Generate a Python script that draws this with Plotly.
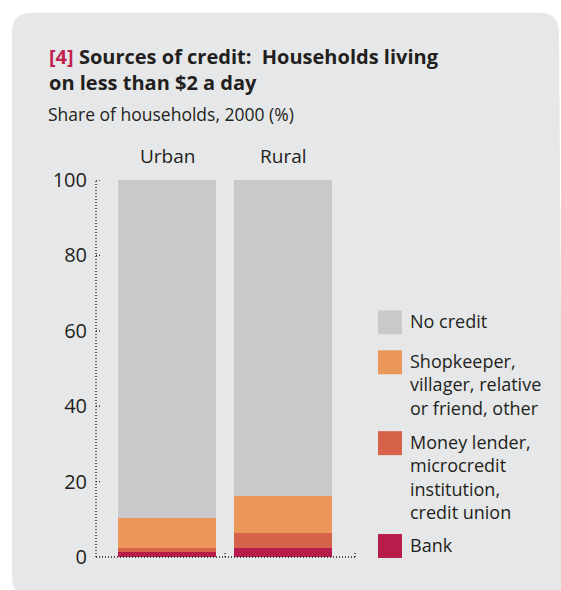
import plotly.graph_objects as go

# data (share of households, 2000, %)
areas = ["Urban", "Rural"]
series = ["Bank", "Money lender,<br>microcredit<br>institution,<br>credit union",
          "Shopkeeper,<br>villager, relative<br>or friend, other", "No credit"]
bank = [1.4, 2.3]
money_lender = [0.9, 4.1]
shopkeeper = [8.0, 9.9]
no_credit = [89.7, 83.7]
y_ticks = [0, 20, 40, 60, 80, 100]

colors = ["#b81c4a", "#d6624a", "#ec975a", "#c8c9cb"]
values = [bank, money_lender, shopkeeper, no_credit]
INK = "#231f20"
FONT = "Open Sans"

W, H = 561, 590
# plot area in pixels
L, R, T, B = 96, 355, 179.5, 557


def px(x):
    return (x - L) / (R - L)


def py(y):
    return (B - y) / (B - T)


fig = go.Figure()
for name, vals, col in zip(series, values, colors):
    fig.add_trace(go.Bar(x=areas, y=vals, name=name, marker_color=col,
                         marker_line_width=0, showlegend=False))

shapes = []
# grey rounded panel (runs off the bottom/right of the picture)
x0, y0, r = 12, 12, 20
x1_top, x1_bot, y1 = 559, 563, 597
path = (f"M {px(x0+r)},{py(y0)} L {px(x1_top-r)},{py(y0)} Q {px(x1_top)},{py(y0)} {px(x1_top)},{py(y0+r)} "
        f"L {px(x1_bot)},{py(y1)} "
        f"L {px(x0+r)},{py(y1)} Q {px(x0)},{py(y1)} {px(x0)},{py(y1-r)} "
        f"L {px(x0)},{py(y0+r)} Q {px(x0)},{py(y0)} {px(x0+r)},{py(y0)} Z")
shapes.append(dict(type="path", path=path, xref="paper", yref="paper",
                   fillcolor="#e6e7e8", line_width=0, layer="below"))

dot = dict(color=INK, width=1.3, dash="1px,2px")
# dotted axes
shapes.append(dict(type="line", xref="x domain", yref="y domain", x0=0, x1=0, y0=0, y1=1, line=dot))
shapes.append(dict(type="line", xref="x domain", yref="y domain", x0=0, x1=1, y0=0, y1=0, line=dot))
for v in y_ticks:
    shapes.append(dict(type="line", xref="x domain", yref="y", x0=0, x1=6 / (R - L), y0=v, y1=v, line=dot))
tick_h = 6 / (B - T)
shapes.append(dict(type="line", xref="x", yref="y domain", x0=0.5, x1=0.5, y0=0, y1=tick_h, line=dot))
shapes.append(dict(type="line", xref="x domain", yref="y domain", x0=1, x1=1, y0=0, y1=tick_h, line=dot))

annotations = [
    dict(text="<b><span style='color:#c0224f'>[4]</span> Sources of credit:  Households living"
              "<br>on less than $2 a day</b>",
         x=px(47), y=py(40), xref="paper", yref="paper", xanchor="left", yanchor="top", align="left",
         showarrow=False, font=dict(size=20, color=INK, family=FONT)),
    dict(text="Share of households, 2000 (%)",
         x=px(46), y=py(99), xref="paper", yref="paper", xanchor="left", yanchor="top",
         showarrow=False, font=dict(size=17.5, color=INK, family=FONT)),
]
for a in areas:
    annotations.append(dict(text=a, x=a, xref="x", y=1, yref="y domain", yanchor="bottom", yshift=9,
                            showarrow=False, font=dict(size=19, color=INK, family=FONT)))

# legend (top to bottom: No credit ... Bank)
legend_tops = [310, 350, 431, 534]
for name, col, top in zip(series[::-1], colors[::-1], legend_tops):
    shapes.append(dict(type="rect", xref="paper", yref="paper", x0=px(378), x1=px(402),
                       y0=py(top), y1=py(top + 24), fillcolor=col, line_width=0))
    annotations.append(dict(text=name, x=px(408), y=py(top - 3), xref="paper", yref="paper",
                            xanchor="left", yanchor="top", align="left", showarrow=False,
                            font=dict(size=18, color=INK, family=FONT)))

fig.update_layout(
    width=W, height=H,
    margin=dict(l=L, r=W - R, t=T, b=H - B),
    paper_bgcolor="white", plot_bgcolor="rgba(0,0,0,0)",
    barmode="stack", bargap=0.155,
    font=dict(family=FONT, color=INK),
    shapes=shapes, annotations=annotations,
    xaxis=dict(type="category", range=[-0.612, 1.62], showticklabels=False, showgrid=False,
               zeroline=False, showline=False, ticks="", fixedrange=True),
    yaxis=dict(range=[0, 100], tickvals=y_ticks, showgrid=False, zeroline=False, showline=False,
               ticks="", ticklabelstandoff=8, tickfont=dict(size=20, color=INK, family=FONT)),
)

# drop the default page margin so the figure sits at the window's top-left corner
fig.write_html("out.html", config={"displayModeBar": False},
               post_script="document.body.style.margin='0';document.body.style.overflow='hidden';")
